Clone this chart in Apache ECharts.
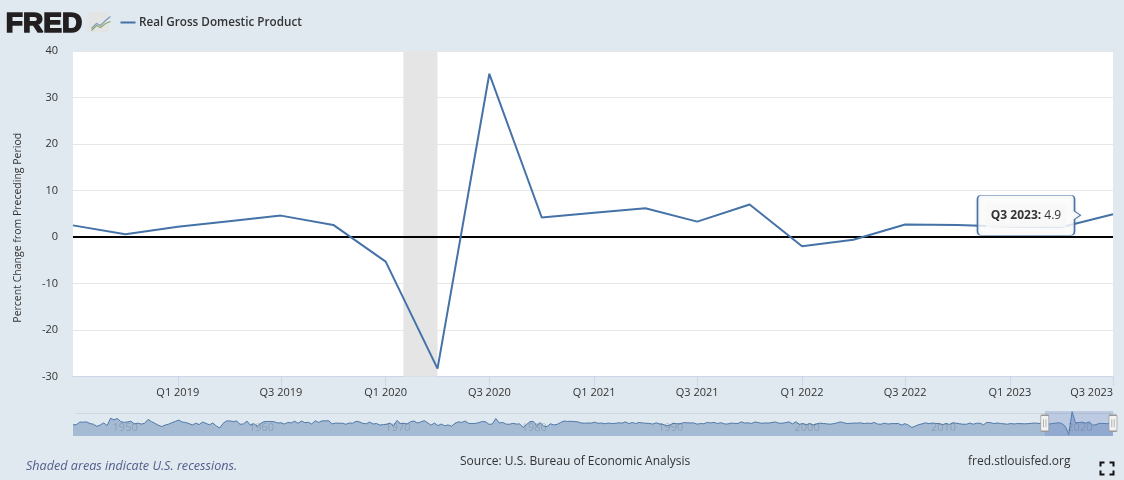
<!DOCTYPE html>
<html>
<head>
<meta charset="utf-8">
<style>
  html, body { margin: 0; padding: 0; background: #e1e9f0; }
  #chart { width: 1124px; height: 480px; }
</style>
<script src="https://cdn.jsdelivr.net/npm/echarts@6/dist/echarts.min.js"></script>
</head>
<body>
<div id="chart"></div>
<script>
// visible quarters, Q3 2018 .. Q3 2023
const quarters = ['2018-07-01', '2018-10-01', '2019-01-01', '2019-04-01', '2019-07-01', '2019-10-01', '2020-01-01', '2020-04-01', '2020-07-01', '2020-10-01', '2021-01-01', '2021-04-01', '2021-07-01', '2021-10-01', '2022-01-01', '2022-04-01', '2022-07-01', '2022-10-01', '2023-01-01', '2023-04-01', '2023-07-01']
const gdpValues = [2.5, 0.6, 2.2, 3.4, 4.6, 2.6, -5.3, -28.3, 35.1, 4.2, 5.2, 6.2, 3.3, 7.0, -2.0, -0.6, 2.7, 2.6, 2.2, 2.1, 4.9]
const tickDates = ['2019-01-01', '2019-07-01', '2020-01-01', '2020-07-01', '2021-01-01', '2021-07-01', '2022-01-01', '2022-07-01', '2023-01-01', '2023-07-01']
const recession = ['2020-02-01', '2020-04-01']

// navigator history, Q2 1947 .. Q2 2018
const historyValues = [
  -1.0, -0.8, 6.4,
  6.2, 6.8, 2.3, 0.5,
  -5.4, -1.4, 4.2, -3.3,
  17.2, 12.7, 16.3, 7.9,
  5.5, 7.1, 8.7, 1.4,
  3.5, 0.9, 3.0, 13.7,
  7.7, 3.1, -2.2, -5.9,
  -1.9, 0.5, 4.7, 8.2,
  12.0, 6.7, 5.4, 2.3,
  -1.5, 3.2, -0.4, 6.7,
  2.6, -1.0, 3.9, -4.1,
  -10.0, 2.6, 9.6, 9.7,
  7.9, 9.3, 0.3, 1.4,
  9.2, -2.1, 2.1, -5.0,
  2.7, 7.5, 8.2, 8.1,
  7.3, 3.8, 4.6, 1.0,
  5.4, 4.2, 8.9, 3.1,
  9.3, 4.7, 5.8, 1.2,
  10.2, 5.5, 9.6, 9.9,
  10.0, 1.4, 3.6, 3.2,
  3.4, 0.4, 3.9, 3.4,
  8.5, 7.0, 2.8, 1.8,
  6.3, 1.1, 2.4, -1.9,
  -0.6, 0.6, 3.6, -4.0,
  11.1, 2.3, 3.3, 1.1,
  7.5, 9.4, 3.8, 6.9,
  10.4, 4.4, -2.1, 3.8,
  -3.4, 1.0, -3.7, -1.5,
  -4.8, 2.9, 7.0, 5.5,
  9.3, 3.0, 2.2, 2.9,
  4.8, 8.0, 7.4, 0.0,
  1.3, 16.4, 4.1, 5.5,
  0.7, 0.4, 3.0, 1.0,
  1.3, -8.0, -0.5, 7.7,
  8.1, -2.9, 4.9, -4.3,
  -6.1, 1.8, -1.5, 0.2,
  5.4, 9.4, 8.2, 8.6,
  8.1, 7.1, 3.9, 3.3,
  3.9, 3.6, 6.2, 3.0,
  3.8, 1.8, 3.9, 2.2,
  3.0, 4.4, 3.5, 7.0,
  2.1, 5.4, 2.4, 5.4,
  4.1, 3.1, 3.0, 0.8,
  4.4, 1.5, 0.3, -3.6,
  -1.9, 3.2, 2.0, 1.6,
  4.9, 4.4, 4.0, 4.2,
  0.7, 2.3, 1.9, 5.6,
  4.0, 5.5, 2.4, 4.7,
  1.4, 1.2, 3.5, 2.9,
  2.6, 7.0, 3.7, 4.3,
  2.6, 6.8, 5.0, 3.0,
  4.1, 3.6, 5.3, 6.7,
  3.3, 3.3, 5.0, 6.9,
  1.5, 7.5, 0.4, 2.4,
  -1.3, 2.6, -1.6, 1.1,
  3.4, 2.5, 1.6, 0.5,
  2.1, 3.8, 6.9, 4.8,
  2.3, 3.0, 3.7, 3.5,
  4.5, 1.9, 3.6, 2.6,
  5.4, 0.9, 0.6, 3.5,
  0.9, 2.3, 2.2, 2.5,
  -1.7, 2.1, -2.1, -8.5,
  -4.6, -0.7, 1.5, 4.3,
  2.0, 3.9, 2.7, 2.2,
  -0.9, 2.7, -0.1, 4.6,
  3.2, 1.7, 0.5, 0.5,
  3.6, 0.5, 3.2, 3.2,
  -1.1, 5.5, 5.0, 2.3,
  3.8, 2.7, 1.5, 0.6,
  2.4, 1.2, 2.4, 2.0,
  1.7, 2.0, 2.9, 3.9,
  2.8, 2.8
]
const decades = ['1950-01-01', '1960-01-01', '1970-01-01', '1980-01-01', '1990-01-01', '2000-01-01', '2010-01-01', '2020-01-01']

const fontFamily = '"Open Sans", sans-serif'
const lineColor = '#4572a7'

// x 轴用数值轴存时间戳，customValues 才能用
const ts = (date) => Date.parse(date)
const quarterLabel = (value) => {
  const d = new Date(value)
  return `Q${Math.floor(d.getUTCMonth() / 3) + 1} ${d.getUTCFullYear()}`
}

// 日期从 1947 Q2 开始逐季往后排
const historyTimes = historyValues.map((_, i) => {
  const month = 3 + i * 3
  return Date.UTC(1947 + Math.floor(month / 12), month % 12, 1)
})
const mainData = quarters.map((q, i) => [ts(q), gdpValues[i]])
const navigatorData = historyTimes.map((t, i) => [t, historyValues[i]]).concat(mainData)

const firstTime = ts(quarters[0])
const lastPoint = mainData[mainData.length - 1]

const myEchart = echarts.init(document.querySelector('#chart'))
myEchart.setOption({
  animation: false,
  backgroundColor: '#e1e9f0',
  textStyle: { fontFamily },
  grid: [
    { left: 73, right: 11, top: 51, height: 325.5, backgroundColor: '#fff', show: true, borderWidth: 0 },
    { left: 73, right: 11, top: 411, height: 25, show: false },
  ],
  xAxis: [
    {
      type: 'value',
      gridIndex: 0,
      min: firstTime,
      max: lastPoint[0],
      axisLine: { onZero: false, lineStyle: { color: '#ccd6eb' } },
      axisTick: { show: true, length: 10, lineStyle: { color: '#ccd6eb' }, customValues: tickDates.map(ts) },
      splitLine: { show: false },
      axisLabel: {
        color: '#333',
        fontSize: 11,
        margin: 11,
        hideOverlap: false,
        alignMaxLabel: 'right',
        customValues: tickDates.map(ts),
        formatter: quarterLabel,
      },
    },
    {
      type: 'value',
      gridIndex: 1,
      min: historyTimes[0],
      max: lastPoint[0],
      z: 5,
      axisLine: { onZero: false, show: false },
      axisTick: { show: false, customValues: decades.map(ts) },
      splitLine: { show: false },
      axisLabel: {
        inside: true,
        color: 'rgba(80,90,100,0.28)',
        fontSize: 11,
        margin: 3,
        align: 'left',
        padding: [0, 0, 0, 2],
        customValues: decades.map(ts),
        formatter: (value) => String(new Date(value).getUTCFullYear()),
      },
    },
  ],
  yAxis: [
    {
      type: 'value',
      gridIndex: 0,
      min: -30,
      max: 40,
      interval: 10,
      axisLine: { show: false },
      axisTick: { show: false },
      splitLine: { lineStyle: { color: '#e6e6e6' } },
      axisLabel: { color: '#333', fontSize: 11, margin: 15 },
      name: 'Percent Change from Preceding Period',
      nameLocation: 'middle',
      nameGap: 49,
      nameTextStyle: { color: '#333', fontSize: 10.5, padding: [0, 28, 0, 0] },
    },
    {
      type: 'value',
      gridIndex: 1,
      min: -32,
      max: 37,
      show: false,
      splitLine: { show: false },
    },
  ],
  series: [
    {
      type: 'line',
      name: 'Real Gross Domestic Product',
      xAxisIndex: 0,
      yAxisIndex: 0,
      data: mainData,
      symbol: 'none',
      z: 3,
      lineStyle: { color: lineColor, width: 2 },
      markArea: {
        silent: true,
        z: 1,
        itemStyle: { color: '#e5e5e5' },
        data: [[{ xAxis: ts(recession[0]) }, { xAxis: ts(recession[1]) }]],
      },
      markLine: {
        silent: true,
        symbol: 'none',
        z: 2,
        label: { show: false },
        lineStyle: { color: '#000', width: 2, type: 'solid' },
        data: [{ yAxis: 0 }],
      },
      // Q3 2023 的提示框
      markPoint: {
        silent: true,
        z: 10,
        data: [{
          coord: lastPoint,
          symbol: 'path://M4 0H93Q97 0 97 4V16L103 20L97 24V36Q97 40 93 40H4Q0 40 0 36V4Q0 0 4 0Z',
          symbolSize: [103, 40],
          symbolOffset: [-84, 1],
          itemStyle: { color: 'rgba(255,255,255,0.82)', borderColor: lineColor, borderWidth: 1, shadowColor: 'rgba(0,0,0,0.12)', shadowBlur: 3, shadowOffsetY: 1 },
          label: {
            show: true,
            position: 'inside',
            offset: [-3, 0],
            formatter: `{b|${quarterLabel(lastPoint[0])}:} {v|${lastPoint[1]}}`,
            backgroundColor: 'rgba(247,247,247,0.85)',
            padding: [6, 5],
            rich: {
              b: { fontFamily, fontSize: 12, fontWeight: 'bold', color: '#333' },
              v: { fontFamily, fontSize: 12, color: '#333' },
            },
          },
        }],
      },
    },
    {
      type: 'line',
      name: 'navigator',
      xAxisIndex: 1,
      yAxisIndex: 1,
      data: navigatorData,
      symbol: 'none',
      z: 2,
      lineStyle: { color: '#4d78a8', width: 1 },
      areaStyle: { color: 'rgba(69,114,167,0.55)', origin: 'start' },
      markArea: {
        silent: true,
        z: 3,
        itemStyle: { color: 'rgba(102,133,194,0.3)' },
        data: [[{ xAxis: firstTime, yAxis: -32 }, { xAxis: lastPoint[0], yAxis: 37 }]],
      },
      markPoint: {
        silent: true,
        z: 6,
        data: [firstTime, lastPoint[0]].map((t) => ({
          coord: [t, 3],
          symbol: 'path://M1 0H8Q9 0 9 1V15Q9 16 8 16H1Q0 16 0 15V1Q0 0 1 0Z M3.2 4V12 M5.8 4V12',
          symbolSize: [8, 16],
          itemStyle: { color: '#f2f2f2', borderColor: '#999', borderWidth: 1 },
          label: { show: false },
        })),
      },
    },
  ],
  title: [
    { text: 'Source: U.S. Bureau of Economic Analysis', left: 455, top: 451, textStyle: { color: '#333', fontSize: 12, fontWeight: 'normal', fontFamily } },
    { text: 'fred.stlouisfed.org', left: 963, top: 451, textStyle: { color: '#333', fontSize: 12, fontWeight: 'normal', fontFamily } },
    { text: 'Shaded areas indicate U.S. recessions.', left: 21, top: 455, textStyle: { color: '#4f5d8a', fontSize: 12.6, fontWeight: 'normal', fontStyle: 'italic', fontFamily } },
  ],
  graphic: [
    // FRED logo as text with the small line icon
    { type: 'text', left: 5, top: 10, style: { text: 'FRED', fill: '#231f20', font: 'bold 27px "Liberation Sans", sans-serif', stroke: '#231f20', lineWidth: 1.6 }, scaleX: 1.04 },
    { type: 'rect', left: 87, top: 12, shape: { width: 22, height: 20, r: 1 }, style: { fill: '#e2e5e4' } },
    { type: 'polyline', left: 89, top: 14, shape: { points: [[0, 12], [5, 7], [9, 9], [14, 4], [19, 0]] }, style: { stroke: '#7f9abc', lineWidth: 1.2, fill: null } },
    { type: 'polyline', left: 89, top: 19, shape: { points: [[0, 9], [5, 4], [9, 6], [14, 2], [19, 0]] }, style: { stroke: '#8fa86a', lineWidth: 1.2, fill: null } },
    // legend
    { type: 'line', left: 118, top: 20, shape: { x1: 0, y1: 0, x2: 15, y2: 0 }, style: { stroke: lineColor, lineWidth: 2 } },
    { type: 'text', left: 139, top: 17, style: { text: 'Real Gross Domestic Product', fill: '#333', font: '600 11.7px "Open Sans", sans-serif' } },
    // fullscreen corners
    { type: 'polyline', left: 1098, top: 460, shape: { points: [[0, 4], [0, 0], [4, 0]] }, style: { stroke: '#111', lineWidth: 2, fill: null } },
    { type: 'polyline', left: 1107, top: 460, shape: { points: [[0, 0], [4, 0], [4, 4]] }, style: { stroke: '#111', lineWidth: 2, fill: null } },
    { type: 'polyline', left: 1098, top: 468, shape: { points: [[0, 0], [0, 4], [4, 4]] }, style: { stroke: '#111', lineWidth: 2, fill: null } },
    { type: 'polyline', left: 1107, top: 468, shape: { points: [[4, 0], [4, 4], [0, 4]] }, style: { stroke: '#111', lineWidth: 2, fill: null } },
    // navigator outline on top
    { type: 'line', left: 73, top: 411, shape: { x1: 0, y1: 0, x2: 1040, y2: 0 }, style: { stroke: '#cfd5da', lineWidth: 1 } },
  ],
})
</script>
</body>
</html>
